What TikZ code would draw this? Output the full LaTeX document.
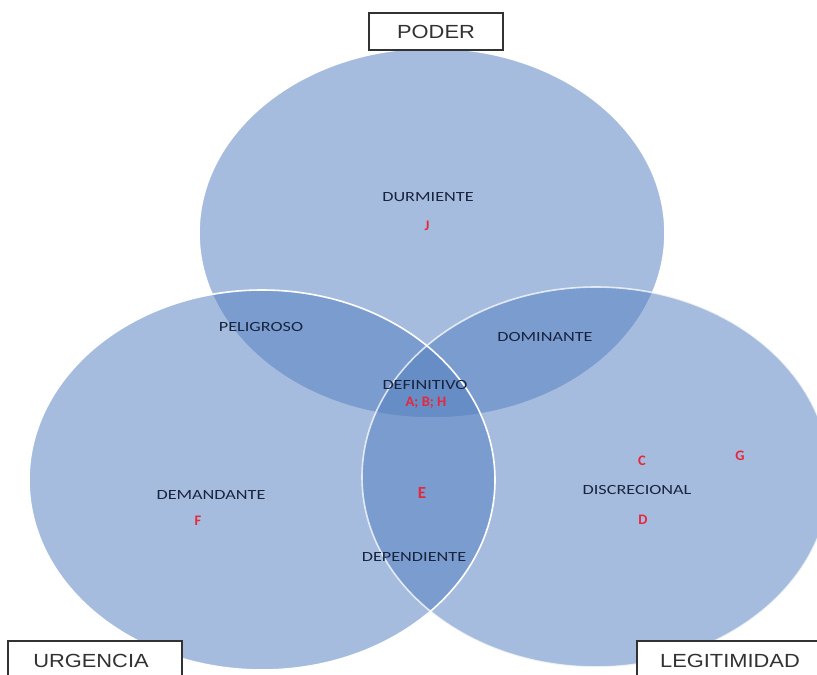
\documentclass[tikz,border=0pt]{standalone}
\usepackage{fontspec}
\setmainfont{Liberation Sans}
\newfontfamily\labfont{Carlito}
\definecolor{setblue}{RGB}{84,127,192}
\definecolor{labnavy}{RGB}{25,36,62}
\definecolor{boxgray}{RGB}{50,50,50}
\definecolor{markred}{RGB}{230,40,60}
\newcommand{\widelab}[1]{\scalebox{1.3}[1]{#1}}
\newcommand{\widebox}[1]{\scalebox{1.15}[1]{#1}}
\tikzset{
  setarea/.style={fill=setblue, fill opacity=0.52},
  setrim/.style={draw=white, line width=1.6pt},
  tagbox/.style={draw=boxgray, fill=white, line width=1.3pt},
  tagtext/.style={text=boxgray, font=\fontsize{19}{22}\selectfont},
  arealab/.style={text=labnavy, font=\labfont\fontsize{14}{16}\selectfont, inner sep=0pt},
  marklab/.style={text=markred, font=\labfont\bfseries\fontsize{14.5}{16}\selectfont, inner sep=0pt}
}
\begin{document}
\begin{tikzpicture}[x=1pt, y=-1pt]
\useasboundingbox (0,0) rectangle (817,675);
\clip (0,0) rectangle (817,675);

% the three overlapping sets
\path[setarea, setrim] (432,233) ellipse [x radius=233, y radius=185];
\path[setarea] (262,480) ellipse [x radius=233, y radius=190];
\path[setarea] (596,477) ellipse [x radius=234, y radius=190];
% rims of the two lower sets stay visible across the overlaps
\draw[setrim] (262,480) ellipse [x radius=233, y radius=190];
\draw[setrim, draw opacity=0.75] (596,477) ellipse [x radius=234, y radius=190];

% region names
\node[arealab] (durm) at (428,197) {\widelab{DURMIENTE}};
\node[arealab] (peli) at (261,327) {\widelab{PELIGROSO}};
\node[arealab] (domi) at (545,337) {\widelab{DOMINANTE}};
\node[arealab] (defi) at (425,385) {\widelab{DEFINITIVO}};
\node[arealab] (dema) at (211,495) {\widelab{DEMANDANTE}};
\node[arealab] (disc) at (637,490) {\widelab{DISCRECIONAL}};
\node[arealab] (depe) at (414,557) {\widelab{DEPENDIENTE}};

% stakeholders placed in each region
\node[marklab] (mj) at (427,226) {J};
\node[marklab] (mabh) at (426,403) {A; B; H};
\node[marklab] (me) at (422,493) {\fontsize{17}{19}\selectfont E};
\node[marklab] (mf) at (198,521) {F};
\node[marklab] (mc) at (642,461) {C};
\node[marklab] (mg) at (740,456) {G};
\node[marklab] (md) at (643,520) {D};

% attribute tags
\draw[tagbox] (369,13) rectangle (503,50);
\node[tagtext] (poder) at (436,32) {\widebox{PODER}};
\draw[tagbox] (8,641) rectangle (182,690);
\node[tagtext] (urg) at (91,661) {\widebox{URGENCIA}};
\draw[tagbox] (637,641) rectangle (830,690);
\node[tagtext] (leg) at (730,661) {\widebox{LEGITIMIDAD}};
\end{tikzpicture}
\end{document}
